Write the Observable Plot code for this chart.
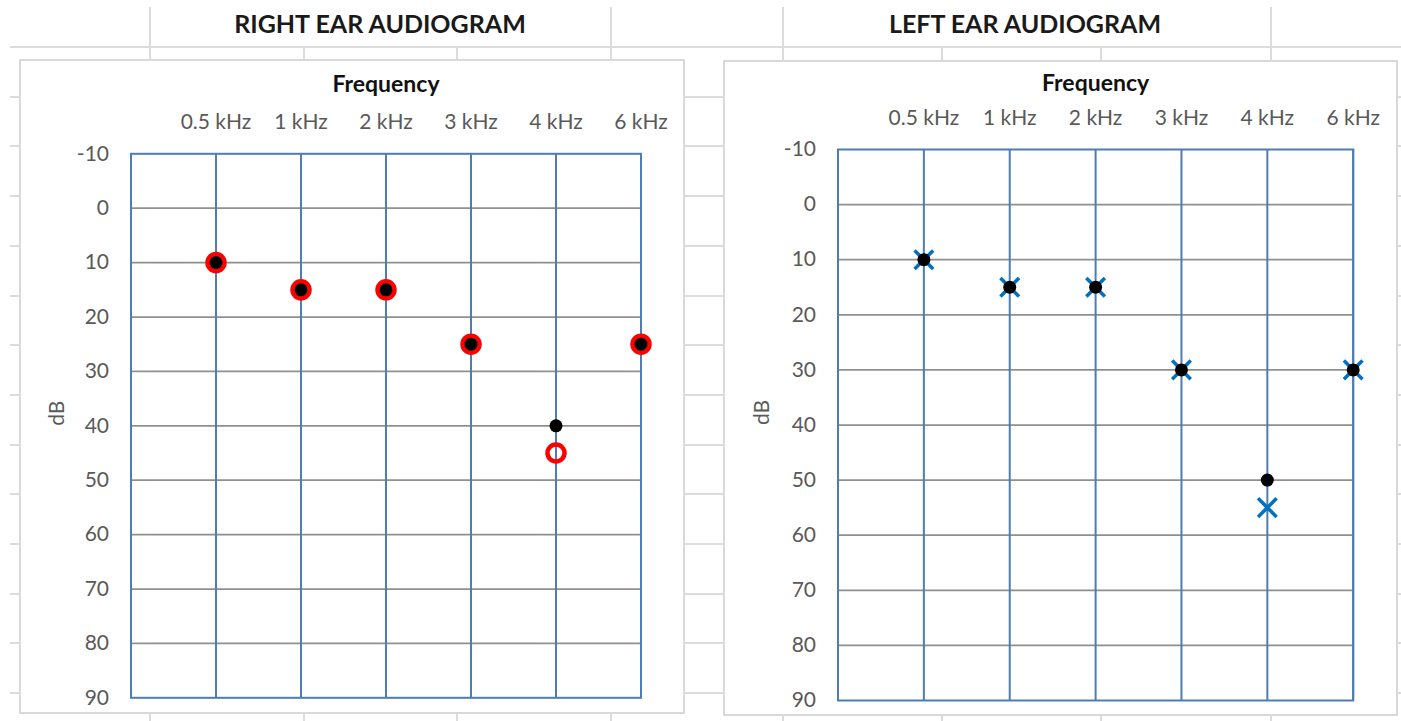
<!DOCTYPE html>
<html>
<head>
<meta charset="utf-8">
<script src="https://cdn.jsdelivr.net/npm/d3@7"></script>
<script src="https://cdn.jsdelivr.net/npm/@observablehq/plot@0.6"></script>
<style>
  html, body { margin: 0; padding: 0; background: #fff; }
  #page { position: relative; width: 1401px; height: 721px; overflow: hidden; font-family: Lato, "Open Sans", sans-serif; }
  .hl { position: absolute; height: 2px; background: #dcdcdc; }
  .vl { position: absolute; width: 2px; background: #dcdcdc; }
  .frame { position: absolute; box-sizing: border-box; border: 2px solid #d9d9d9; background: #fff; }
  .title { position: absolute; transform: translate(-50%, -50%); font-weight: 700; font-size: 25px; color: #1a1a1a; white-space: nowrap; }
  .chart { position: absolute; }
</style>
</head>
<body>
<div id="page"></div>
<script>
// ---- data ----
const freqLabels = ["0.5 kHz", "1 kHz", "2 kHz", "3 kHz", "4 kHz", "6 kHz"];
const rightDots = [10, 15, 15, 25, 40, 25];      // black dots, right ear
const rightCircles = [10, 15, 15, 25, 45, 25];   // red circles, right ear
const leftDots = [10, 15, 15, 30, 50, 30];       // black dots, left ear
const leftCrosses = [10, 15, 15, 30, 55, 30];    // blue crosses, left ear
const dbTicks = [-10, 0, 10, 20, 30, 40, 50, 60, 70, 80, 90];
const gridLevels = [0, 10, 20, 30, 40, 50, 60, 70, 80];
const chartTitles = ["RIGHT EAR AUDIOGRAM", "LEFT EAR AUDIOGRAM"];

const positions = freqLabels.map((_, i) => i + 1);
const table = (vals) => vals.map((v, i) => ({ pos: i + 1, freq: freqLabels[i], db: v }));

const page = document.getElementById("page");

// ---- spreadsheet background grid ----
function addDiv(cls, style, text) {
  const d = document.createElement("div");
  d.className = cls;
  Object.assign(d.style, style);
  if (text) d.textContent = text;
  page.appendChild(d);
  return d;
}
for (let k = 0; k < 14; k++) {
  const y = 46 + 49.7 * k;
  addDiv("hl", { left: "10px", top: y + "px", width: "1391px" });
}
[149, 610, 782, 1270].forEach(x => addDiv("vl", { left: x + "px", top: "7px", height: "40px" }));
[149, 303, 456, 610, 782, 941, 1100, 1270].forEach(x => addDiv("vl", { left: x + "px", top: "47px", height: "680px" }));

// sheet titles
addDiv("title", { left: "380px", top: "23px" }, chartTitles[0]);
addDiv("title", { left: "1025px", top: "23px" }, chartTitles[1]);

// chart frames
addDiv("frame", { left: "19px", top: "59px", width: "666px", height: "655px" });
addDiv("frame", { left: "723px", top: "60px", width: "675px", height: "656px" });

const BLUE = "#4d7db3";
const GRAY_GRID = "#8f8f8f";
const LABEL = "#595959";

function audiogram(cfg, seriesMarks) {
  const svg = Plot.plot({
    width: cfg.width,
    height: cfg.height,
    marginLeft: cfg.ml,
    marginRight: cfg.mr,
    marginTop: cfg.mt,
    marginBottom: cfg.mb,
    style: { background: "transparent", fontFamily: "Lato, 'Open Sans', sans-serif", color: LABEL, overflow: "visible" },
    x: { domain: [0, 6] },
    y: { domain: [-10, 90], reverse: true },
    marks: [
      Plot.ruleY(gridLevels, { stroke: GRAY_GRID, strokeWidth: 1.75 }),
      Plot.ruleX(positions, { stroke: BLUE, strokeWidth: 2 }),
      Plot.frame({ stroke: BLUE, strokeWidth: 2 }),
      ...seriesMarks,
      Plot.axisX(positions, { anchor: "top", tickSize: 0, tickPadding: 25, tickFormat: i => freqLabels[i - 1], fontSize: 21, label: null }),
      Plot.axisY(dbTicks, { anchor: "left", tickSize: 0, tickPadding: 22, tickFormat: d => String(d), fontSize: 21, label: null }),
      Plot.text(["Frequency"], { text: d => d, frameAnchor: "top", dy: cfg.freqDy, lineAnchor: "bottom", fontSize: 23, fontWeight: "bold", fill: "#111" }),
      Plot.text(["dB"], { text: d => d, frameAnchor: "left", dx: cfg.dbDx, rotate: -90, fontSize: 21, fill: LABEL })
    ]
  });
  const wrap = document.createElement("div");
  wrap.className = "chart";
  wrap.style.left = cfg.left + "px";
  wrap.style.top = cfg.top + "px";
  wrap.appendChild(svg);
  page.appendChild(wrap);
}

// Right ear
audiogram(
  { left: 19, top: 59, width: 666, height: 655, ml: 111.5, mr: 44.5, mt: 94.3, mb: 16.7, freqDy: -61.8, dbDx: -73.5 },
  [
    Plot.dot(table(rightCircles), { x: "pos", y: "db", r: 8.5, stroke: "#ff0000", strokeWidth: 4.5, fill: "none" }),
    Plot.dot(table(rightDots), { x: "pos", y: "db", r: 6.5, fill: "#000", stroke: "none" })
  ]
);

// Left ear
audiogram(
  { left: 723, top: 60, width: 675, height: 656, ml: 114.5, mr: 45.3, mt: 89, mb: 16, freqDy: -59, dbDx: -75.5 },
  [
    Plot.dot(table(leftCrosses), { x: "pos", y: "db", symbol: "times", r: 8.5, stroke: "#0070c0", strokeWidth: 3.5 }),
    Plot.dot(table(leftDots), { x: "pos", y: "db", r: 6.5, fill: "#000", stroke: "none" })
  ]
);
</script>
</body>
</html>
